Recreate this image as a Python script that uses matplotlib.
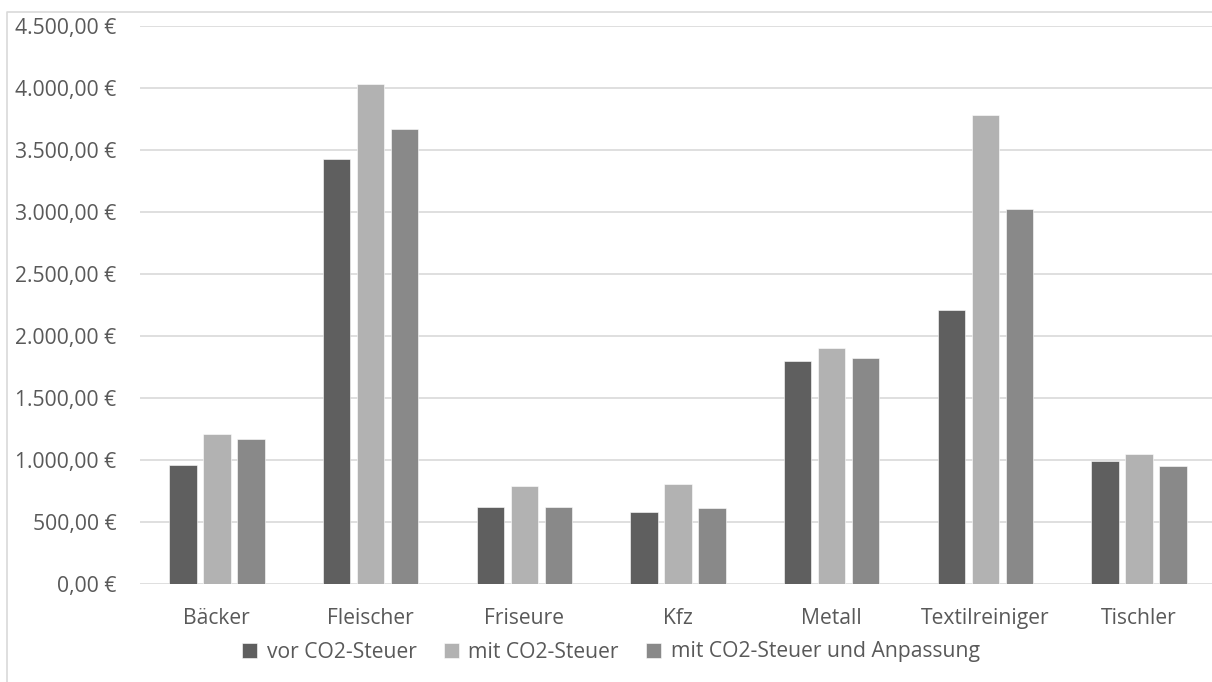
import matplotlib
matplotlib.use("Agg")
import matplotlib.pyplot as plt
import numpy as np
from matplotlib.ticker import FuncFormatter, MultipleLocator
from matplotlib.lines import Line2D

categories = ["Bäcker", "Fleischer", "Friseure", "Kfz", "Metall", "Textilreiniger", "Tischler"]
series_names = ["vor CO2-Steuer", "mit CO2-Steuer", "mit CO2-Steuer und Anpassung"]
vor = [962, 3430, 620, 578, 1800, 2208, 992]
mit = [1213, 4030, 788, 806, 1906, 3785, 1050]
anp = [1170, 3670, 623, 612, 1823, 3027, 952]
colors = ["#5f5f5f", "#b2b2b2", "#898989"]

W, H = 1212, 682
fig = plt.figure(figsize=(W / 100, H / 100), dpi=100)
plt.rcParams['font.family'] = ['Open Sans', 'DejaVu Sans']
ax = fig.add_axes([140 / W, 1 - 584 / H, (1216 - 140) / W, (584 - 26) / H])

x = np.arange(len(categories))
step = 0.221
width = 0.178
for i, (vals, name) in enumerate(zip([vor, mit, anp], series_names)):
    ax.bar(x + (i - 1) * step, vals, width=width, color=colors[i], label=name,
           edgecolor="white", linewidth=0.4, zorder=3)

ax.set_xlim(-0.5, len(categories) - 0.5)
ax.set_ylim(0, 4500)
ax.yaxis.set_major_locator(MultipleLocator(500))

def fmt(v, pos):
    s = f"{v:,.2f}".replace(",", "X").replace(".", ",").replace("X", ".")
    return s + " €"

ax.yaxis.set_major_formatter(FuncFormatter(fmt))
ax.set_xticks(x)
ax.set_xticklabels(categories)
ax.grid(axis="y", color="#d9d9d9", linewidth=1.2, zorder=0)
for s in ax.spines.values():
    s.set_visible(False)
ax.tick_params(axis="both", length=0, colors="#595959", labelsize=15.2)
ax.tick_params(axis="y", pad=17)
ax.tick_params(axis="x", pad=17)

leg = fig.legend(loc="center", bbox_to_anchor=(611 / W, 1 - 652 / H), ncol=3, frameon=False,
                 fontsize=15.2, handlelength=0.7, handleheight=0.7, handletextpad=0.45,
                 columnspacing=1.3, labelcolor="#595959")

# chart border
fig.add_artist(Line2D([7 / W, 7 / W, 1.0], [0.0, 1 - 12 / H, 1 - 12 / H],
                      transform=fig.transFigure, color="#d9d9d9", linewidth=1.2))

fig.savefig("out.png", dpi=100)
